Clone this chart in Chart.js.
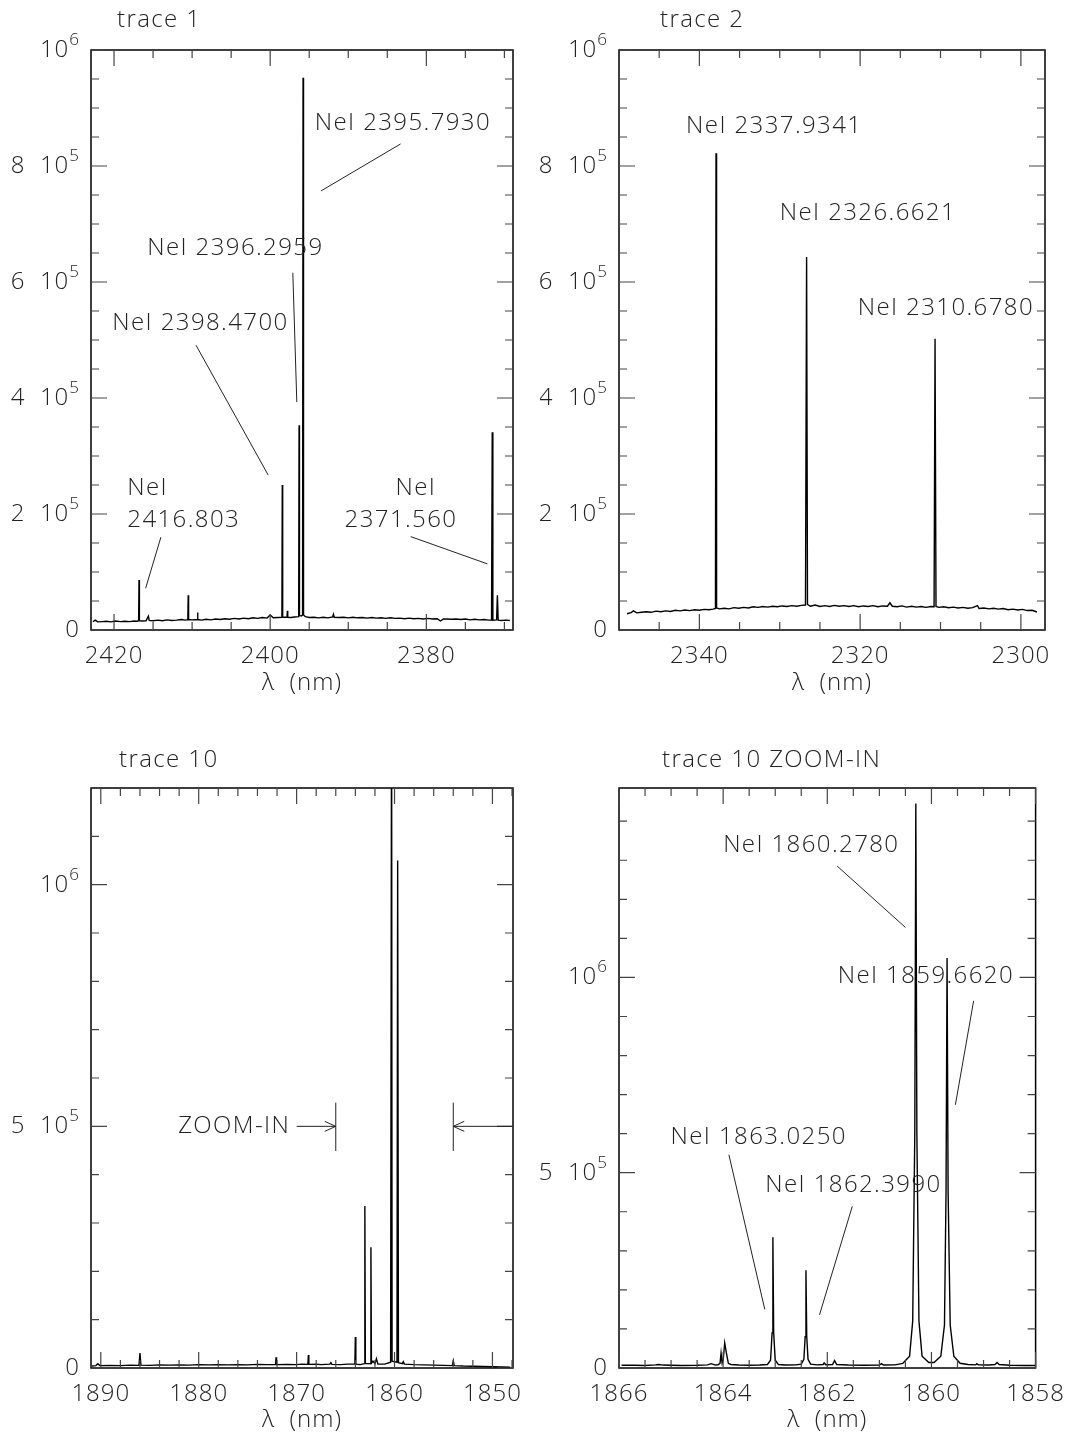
<!DOCTYPE html>
<html>
<head>
<meta charset="utf-8">
<script src="https://cdn.jsdelivr.net/npm/chart.js@4.4.1/dist/chart.umd.min.js"></script>
<style>
  html, body { margin: 0; padding: 0; background: #fff; }
  #wrap { position: relative; width: 1075px; height: 1438px; }
  canvas { position: absolute; }
</style>
</head>
<body>
<div id="wrap">
  <canvas id="c1" width="540" height="719" style="left:0;top:0"></canvas>
  <canvas id="c2" width="535" height="719" style="left:540px;top:0"></canvas>
  <canvas id="c3" width="540" height="719" style="left:0;top:719px"></canvas>
  <canvas id="c4" width="535" height="719" style="left:540px;top:719px"></canvas>
</div>
<script>
// ---- trace 1 ----
const wave1 = [2422.7, 2422.4, 2422.1, 2421.5, 2421.0, 2420.4, 2419.8, 2419.2, 2418.6, 2418.0, 2417.4, 2417.0,
  2416.85, 2416.8, 2416.75, 2416.4, 2415.9, 2415.6, 2415.5, 2415.0, 2414.4, 2413.8, 2413.2, 2412.6, 2412.0,
  2411.4, 2410.9, 2410.55, 2410.5, 2410.45, 2410.0, 2409.35, 2409.3, 2409.25, 2408.8, 2408.2, 2407.6, 2407.0,
  2406.4, 2405.8, 2405.2, 2404.6, 2404.0, 2403.4, 2402.8, 2402.2, 2401.6, 2401.0, 2400.4, 2400.0, 2399.6,
  2399.0, 2398.5, 2398.45, 2398.4, 2397.85, 2397.8, 2397.75, 2397.3, 2396.9, 2396.35, 2396.3, 2396.25, 2396.0,
  2395.85, 2395.79, 2395.73, 2395.5, 2395.0, 2394.4, 2393.8, 2393.2, 2392.6, 2392.0, 2391.9, 2391.8, 2391.2,
  2390.6, 2390.0, 2389.4, 2388.8, 2388.2, 2387.6, 2387.0, 2386.4, 2385.8, 2385.2, 2384.6, 2384.0, 2383.4,
  2382.8, 2382.2, 2381.6, 2381.0, 2380.4, 2379.8, 2379.2, 2378.6, 2378.2, 2377.8, 2377.4, 2376.8, 2376.2,
  2375.6, 2375.0, 2374.4, 2373.8, 2373.2, 2372.6, 2372.0, 2371.65, 2371.56, 2371.48, 2371.0, 2370.9, 2370.8,
  2370.4, 2369.8, 2369.3];
const counts1 = [14500, 17000, 14000, 14500, 15000, 14000, 15500, 14500, 15000, 14500, 15500, 15000,
  16000, 86000, 16000, 15500, 16000, 24000, 16500, 16000, 17000, 16000, 17500, 16500, 17000,
  18000, 17000, 18000, 60000, 18000, 17500, 18000, 30000, 18000, 17000, 18500, 17500, 19000,
  18000, 19500, 18500, 20000, 19000, 20500, 19500, 21000, 20000, 21500, 20500, 26000, 21000,
  21500, 22000, 250000, 22000, 22000, 33000, 22000, 21500, 22500, 23000, 353000, 25000, 24000,
  26000, 952000, 26000, 23000, 21500, 22000, 21000, 22000, 21000, 22500, 27000, 22000, 21500,
  22000, 21000, 22000, 21000, 21500, 20500, 21500, 20500, 21000, 20000, 21000, 20000, 20500,
  19500, 20500, 19500, 20000, 19000, 20000, 19000, 19500, 15500, 19000, 19000, 18500, 19000,
  18000, 19000, 17500, 18500, 17500, 18000, 17000, 17500, 341000, 17000, 17500, 60000, 17000,
  16500, 17000, 16500];
const xTicks1 = [2420, 2400, 2380];
const yTicks1 = [0, 200000, 400000, 600000, 800000, 1000000];
const yLabels1 = ['0', '2  10^5', '4  10^5', '6  10^5', '8  10^5', '10^6'];
const notes1 = [
  { t: 'NeI 2395.7930', x: 2394.29, y: 874000 },
  { t: 'NeI 2396.2959', x: 2415.75, y: 659000 },
  { t: 'NeI 2398.4700', x: 2420.22, y: 529000 },
  { t: 'NeI', x: 2418.3, y: 245000 },
  { t: '2416.803', x: 2418.3, y: 190000 },
  { t: 'NeI', x: 2383.96, y: 245000 },
  { t: '2371.560', x: 2390.47, y: 190000 }
];
const leaders1 = [
  [2383.3, 838000, 2393.5, 757000],
  [2397.1, 616000, 2396.59, 393000],
  [2409.5, 491000, 2400.25, 267000],
  [2414.0, 160000, 2415.95, 72000],
  [2382.0, 161000, 2372.18, 114000]
];

// ---- trace 2 ----
const wave2 = [2349.0, 2348.5, 2348.2, 2347.8, 2347.2, 2346.6, 2346.0, 2345.4, 2344.8, 2344.2, 2343.6, 2343.0,
  2342.4, 2341.8, 2341.2, 2340.6, 2340.0, 2339.4, 2338.8, 2338.3, 2338.0, 2337.93, 2337.86, 2337.5, 2336.9,
  2336.3, 2335.7, 2335.1, 2334.5, 2333.9, 2333.3, 2332.7, 2332.1, 2331.5, 2330.9, 2330.3, 2329.7, 2329.1,
  2328.5, 2327.9, 2327.3, 2326.8, 2326.66, 2326.55, 2326.2, 2325.6, 2325.0, 2324.4, 2323.8, 2323.2, 2322.6,
  2322.0, 2321.4, 2320.8, 2320.2, 2319.6, 2319.0, 2318.4, 2317.8, 2317.2, 2316.6, 2316.3, 2316.0, 2315.4,
  2314.8, 2314.2, 2313.6, 2313.0, 2312.4, 2311.8, 2311.2, 2310.8, 2310.68, 2310.56, 2310.2, 2309.6, 2309.0,
  2308.4, 2307.8, 2307.2, 2306.6, 2306.0, 2305.4, 2305.2, 2304.6, 2304.0, 2303.4, 2302.8, 2302.2, 2301.6,
  2301.0, 2300.4, 2299.8, 2299.2, 2298.6, 2298.0];
const counts2 = [28000, 30000, 33000, 29500, 30500, 31500, 30500, 32500, 31500, 33000, 32000, 34000,
  33000, 34500, 33500, 35000, 34000, 35500, 35000, 36000, 37000, 822000, 38000, 36500, 37500,
  36500, 38500, 37500, 39000, 38000, 40000, 39000, 40500, 39500, 41000, 40000, 41500, 40500,
  42000, 41000, 42500, 43000, 643000, 44000, 41000, 43000, 40500, 42000, 40500, 42500, 41000,
  42000, 40500, 42000, 40000, 41500, 40500, 42000, 40000, 41500, 41000, 47000, 41000, 40000,
  41500, 39500, 41000, 39500, 40500, 39000, 40500, 40000, 502000, 40500, 39000, 40000, 38500,
  39500, 38000, 39000, 37500, 38500, 42000, 37000, 38000, 36500, 37500, 36000, 37000, 35000,
  36000, 34500, 35500, 33500, 34000, 31000];
const xTicks2 = [2340, 2320, 2300];
const yTicks2 = [0, 200000, 400000, 600000, 800000, 1000000];
const yLabels2 = ['0', '2  10^5', '4  10^5', '6  10^5', '8  10^5', '10^6'];
const notes2 = [
  { t: 'NeI 2337.9341', x: 2341.65, y: 868000 },
  { t: 'NeI 2326.6621', x: 2330.0, y: 719000 },
  { t: 'NeI 2310.6780', x: 2320.3, y: 555000 }
];

// ---- trace 10 ----
const wave3 = [1890.9, 1890.5, 1890.3, 1890.1, 1889.0, 1888.0, 1887.0, 1886.1, 1886.0, 1885.9, 1885.0, 1884.0,
  1883.0, 1882.0, 1881.0, 1880.0, 1879.0, 1878.0, 1877.0, 1876.0, 1875.0, 1874.0, 1873.0, 1872.15, 1872.1,
  1872.05, 1871.0, 1870.0, 1869.5, 1868.85, 1868.8, 1868.75, 1868.0, 1867.5, 1866.6, 1866.5, 1866.4, 1865.5,
  1864.8, 1864.05, 1864.0, 1863.95, 1863.5, 1863.08, 1863.03, 1862.98, 1862.6, 1862.45, 1862.41, 1862.36,
  1862.2, 1862.0, 1861.85, 1861.7, 1861.0, 1860.4, 1860.3, 1860.25, 1860.0, 1859.75, 1859.68, 1859.6, 1859.2,
  1859.1, 1859.0, 1858.0, 1857.0, 1856.0, 1855.0, 1854.1, 1854.0, 1853.9, 1853.0, 1852.0, 1851.0, 1850.0,
  1849.0, 1848.2];
const counts3 = [4000, 5000, 9000, 5000, 5500, 5000, 6000, 5500, 31000, 6000, 5500, 6500,
  6000, 6500, 6000, 7000, 6500, 7000, 6500, 7000, 6500, 7500, 7000, 7000, 22000,
  7000, 7500, 7000, 8000, 7500, 27000, 7500, 8000, 7000, 8000, 11000, 7500, 7000,
  8000, 8000, 64000, 8000, 7000, 9000, 335000, 9000, 9000, 9000, 250000, 10000,
  14000, 9000, 19000, 8000, 8000, 12000, 1445000, 14000, 13000, 12000, 1050000, 11000, 9000,
  13000, 8000, 7000, 6500, 6000, 5500, 5000, 15000, 5000, 4000, 3500, 3000, 2500,
  2000, 1500];
const xTicks3 = [1890, 1880, 1870, 1860, 1850];
const yTicks3 = [0, 500000, 1000000];
const yLabels3 = ['0', '5  10^5', '10^6'];
const notes3 = [{ t: 'ZOOM-IN', x: 1882.1, y: 500000 }];
const leaders3 = [[1866, 449000, 1866, 549000], [1854, 449000, 1854, 549000]];
const arrows3 = [[1870.0, 500000, 1866.0, 500000], [1847.9, 500000, 1854.0, 500000]];

// ---- trace 10 ZOOM-IN ----
const wave4 = [1865.95, 1865.7, 1865.5, 1865.3, 1865.24, 1865.15, 1865.0, 1864.8, 1864.5, 1864.3, 1864.23,
  1864.15, 1864.1, 1864.06, 1864.04, 1864.02, 1864.0, 1863.97, 1863.94, 1863.9, 1863.85, 1863.7, 1863.5,
  1863.3, 1863.15, 1863.09, 1863.06, 1863.045, 1863.03, 1863.0, 1862.94, 1862.8, 1862.6, 1862.5, 1862.45,
  1862.425, 1862.41, 1862.395, 1862.37, 1862.32, 1862.2, 1862.08, 1862.06, 1862.03, 1861.9, 1861.86, 1861.82,
  1861.6, 1861.3, 1861.0, 1860.96, 1860.92, 1860.7, 1860.55, 1860.42, 1860.36, 1860.32, 1860.30, 1860.28,
  1860.24, 1860.18, 1860.05, 1859.95, 1859.82, 1859.75, 1859.72, 1859.70, 1859.68, 1859.64, 1859.57, 1859.45,
  1859.3, 1859.15, 1859.13, 1859.1, 1858.9, 1858.78, 1858.74, 1858.7, 1858.5, 1858.2, 1858.0];
const counts4 = [7000, 7000, 6500, 8000, 9000, 7500, 7000, 6500, 7000, 8000, 11000,
  7500, 8000, 12000, 38000, 12000, 20000, 64000, 40000, 12000, 9000, 7500, 7000,
  7500, 9000, 20000, 90000, 335000, 90000, 20000, 9000, 7500, 8000, 10000, 22000,
  80000, 250000, 80000, 22000, 10000, 8000, 9000, 13000, 8500, 9000, 19000, 9000,
  7500, 7000, 7500, 11000, 7500, 8000, 12000, 30000, 120000, 600000, 1445000, 600000,
  120000, 30000, 14000, 14000, 30000, 110000, 450000, 1050000, 450000, 110000, 30000, 12000,
  9000, 8000, 11000, 8000, 7500, 9000, 14000, 9000, 7000, 6500, 6500];
const xTicks4 = [1866, 1864, 1862, 1860, 1858];
const yTicks4 = [0, 500000, 1000000];
const yLabels4 = ['0', '5  10^5', '10^6'];
const notes4 = [
  { t: 'NeI 1860.2780', x: 1864.0, y: 1339000 },
  { t: 'NeI 1859.6620', x: 1861.8, y: 1003000 },
  { t: 'NeI 1863.0250', x: 1865.01, y: 590000 },
  { t: 'NeI 1862.3990', x: 1863.19, y: 467000 }
];
const leaders4 = [
  [1861.81, 1285000, 1860.5, 1128000],
  [1859.19, 940000, 1859.54, 674000],
  [1863.89, 546000, 1863.2, 150000],
  [1861.52, 414000, 1862.15, 136000]
];

const FONT = "'Open Sans', 'DejaVu Sans', sans-serif";
const INK = '#222';

function steps(a, b, s) {
  const out = [];
  for (let v = a; v <= b + 1e-9; v += s) out.push(+v.toFixed(4));
  return out;
}

function makePanel(p) {
  const canvas = document.getElementById(p.id);
  const W = canvas.width, H = canvas.height;
  const xH = p.titleY - p.box.b + 14.4;

  const frame = {
    id: 'frame' + p.id,
    beforeDraw(chart) {
      chart.ctx.letterSpacing = '1px';
    },
    afterDatasetsDraw(chart) {
      const { ctx, chartArea: a, scales: { x, y } } = chart;
      ctx.save();
      ctx.strokeStyle = '#000';
      ctx.lineWidth = 1.5;
      ctx.strokeRect(a.left, a.top, a.right - a.left, a.bottom - a.top);
      ctx.lineWidth = 1.2;
      ctx.strokeStyle = '#444';
      const tick = (vals, len, horiz) => {
        vals.forEach(v => {
          ctx.beginPath();
          if (horiz) {
            const px = x.getPixelForValue(v);
            if (px < a.left - 0.5 || px > a.right + 0.5) return;
            ctx.moveTo(px, a.bottom); ctx.lineTo(px, a.bottom - len);
            ctx.moveTo(px, a.top); ctx.lineTo(px, a.top + len);
          } else {
            const py = y.getPixelForValue(v);
            if (py < a.top - 0.5 || py > a.bottom + 0.5) return;
            ctx.moveTo(a.left, py); ctx.lineTo(a.left + len, py);
            ctx.moveTo(a.right, py); ctx.lineTo(a.right - len, py);
          }
          ctx.stroke();
        });
      };
      tick(p.xMinor.filter(v => !p.xTicks.includes(v)), 8, true);
      tick(p.xTicks, 16, true);
      tick(p.yMinor.filter(v => !p.yTicks.includes(v)), 8, false);
      tick(p.yTicks, 16, false);

      // y tick labels with raised exponents
      ctx.fillStyle = INK;
      ctx.textBaseline = 'middle';
      ctx.textAlign = 'left';
      ctx.letterSpacing = '1px';
      p.yTicks.forEach((v, i) => {
        const py = y.getPixelForValue(v);
        const [base, exp] = p.yLabels[i].split('^');
        const right = a.left - 11;
        ctx.font = '300 17px ' + FONT;
        const wExp = exp ? ctx.measureText(exp).width : 0;
        if (exp) ctx.fillText(exp, right - wExp, py - 10);
        ctx.font = '300 24px ' + FONT;
        const wBase = ctx.measureText(base).width;
        ctx.fillText(base, right - wExp - wBase, py);
      });

      // annotations
      ctx.strokeStyle = INK;
      ctx.lineWidth = 1;
      ctx.font = '300 24px ' + FONT;
      ctx.letterSpacing = '1.4px';
      (p.notes || []).forEach(n => {
        ctx.fillText(n.t, x.getPixelForValue(n.x), y.getPixelForValue(n.y));
      });
      (p.leaders || []).forEach(l => {
        ctx.beginPath();
        ctx.moveTo(x.getPixelForValue(l[0]), y.getPixelForValue(l[1]));
        ctx.lineTo(x.getPixelForValue(l[2]), y.getPixelForValue(l[3]));
        ctx.stroke();
      });
      (p.arrows || []).forEach(l => {
        const x0 = x.getPixelForValue(l[0]), y0 = y.getPixelForValue(l[1]);
        const x1 = x.getPixelForValue(l[2]), y1 = y.getPixelForValue(l[3]);
        const dir = Math.sign(x1 - x0);
        ctx.beginPath();
        ctx.moveTo(x0, y0); ctx.lineTo(x1, y1);
        ctx.moveTo(x1 - dir * 11, y1 - 5); ctx.lineTo(x1, y1); ctx.lineTo(x1 - dir * 11, y1 + 5);
        ctx.stroke();
      });

      // panel title
      ctx.fillText(p.title, p.titlePos[0], p.titlePos[1]);
      ctx.restore();
    }
  };

  return new Chart(canvas, {
    type: 'line',
    data: {
      datasets: [{
        data: p.wave.map((w, i) => ({ x: w, y: p.counts[i] })),
        borderColor: '#000',
        borderWidth: 1.4,
        pointRadius: 0,
        tension: 0,
        fill: false
      }]
    },
    options: {
      responsive: false,
      animation: false,
      layout: { padding: { left: 0, right: W - p.box.r, top: p.box.t, bottom: H - p.box.b - xH } },
      plugins: { legend: { display: false }, tooltip: { enabled: false }, title: { display: false } },
      scales: {
        x: {
          type: 'linear',
          reverse: true,
          min: p.xMin,
          max: p.xMax,
          afterFit: s => { s.height = xH; },
          afterBuildTicks: s => { s.ticks = p.xTicks.map(v => ({ value: v })); },
          grid: { display: false, drawTicks: false },
          border: { display: false },
          ticks: {
            padding: 12,
            color: INK,
            font: { family: FONT, size: 24, weight: 300 },
            maxRotation: 0,
            autoSkip: false,
            callback: v => String(v)
          },
          title: {
            display: true,
            text: '\u03bb  (nm)',
            color: INK,
            padding: { top: 0, bottom: 0 },
            font: { family: FONT, size: 24, weight: 300 }
          }
        },
        y: {
          type: 'linear',
          min: 0,
          max: p.yMax,
          afterFit: s => { s.width = p.box.l; },
          afterBuildTicks: s => { s.ticks = p.yTicks.map(v => ({ value: v })); },
          grid: { display: false, drawTicks: false },
          border: { display: false },
          ticks: { display: false }
        }
      }
    },
    plugins: [frame]
  });
}

makePanel({
  id: 'c1', box: { l: 91, r: 513, t: 50, b: 630 }, titleY: 683,
  wave: wave1, counts: counts1, xMin: 2368.9, xMax: 2422.95, xTicks: xTicks1, xMinor: steps(2370, 2420, 5),
  yMax: 1000000, yTicks: yTicks1, yLabels: yLabels1, yMinor: steps(0, 1000000, 50000),
  notes: notes1, leaders: leaders1, title: 'trace 1', titlePos: [117, 20]
});
makePanel({
  id: 'c2', box: { l: 79, r: 505, t: 50, b: 630 }, titleY: 683,
  wave: wave2, counts: counts2, xMin: 2297, xMax: 2350, xTicks: xTicks2, xMinor: steps(2300, 2345, 5),
  yMax: 1000000, yTicks: yTicks2, yLabels: yLabels2, yMinor: steps(0, 1000000, 50000),
  notes: notes2, title: 'trace 2', titlePos: [120, 20]
});
makePanel({
  id: 'c3', box: { l: 91, r: 513, t: 69, b: 649 }, titleY: 701,
  wave: wave3, counts: counts3, xMin: 1847.9, xMax: 1891.0, xTicks: xTicks3, xMinor: steps(1848, 1890, 2),
  yMax: 1200000, yTicks: yTicks3, yLabels: yLabels3, yMinor: steps(0, 1200000, 100000),
  notes: notes3, leaders: leaders3, arrows: arrows3, title: 'trace 10', titlePos: [119, 41]
});
makePanel({
  id: 'c4', box: { l: 79, r: 505, t: 69, b: 649 }, titleY: 701,
  wave: wave4, counts: counts4, xMin: 1858, xMax: 1866, xTicks: xTicks4, xMinor: steps(1858, 1866, 0.5),
  yMax: 1485000, yTicks: yTicks4, yLabels: yLabels4, yMinor: steps(0, 1400000, 100000),
  notes: notes4, leaders: leaders4, title: 'trace 10 ZOOM-IN', titlePos: [122, 41]
});
</script>
</body>
</html>
